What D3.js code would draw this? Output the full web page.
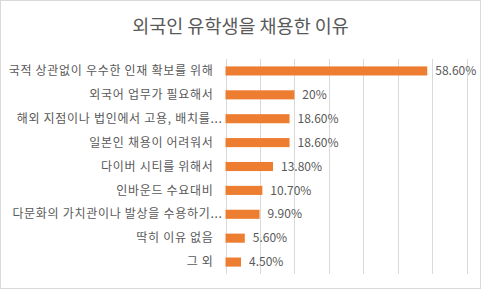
<!DOCTYPE html>
<html>
<head>
<meta charset="utf-8">
<script src="https://cdn.jsdelivr.net/npm/d3@7"></script>
<style>
  body { margin: 0; background: #fff; }
  text { font-family: "Noto Sans CJK KR", "Malgun Gothic", sans-serif; fill: #595959; }
</style>
</head>
<body>
<svg id="chart" width="481" height="289"></svg>
<script>
const categories = [
    "국적 상관없이 우수한 인재 확보를 위해",
    "외국어 업무가 필요해서",
    "해외 지점이나 법인에서 고용, 배치를...",
    "일본인 채용이 어려워서",
    "다이버 시티를 위해서",
    "인바운드 수요대비",
    "다문화의 가치관이나 발상을 수용하기...",
    "딱히 이유 없음",
    "그 외"
];
const values = [58.6, 20, 18.6, 18.6, 13.8, 10.7, 9.9, 5.6, 4.5];
const valueLabels = ["58.60%", "20%", "18.60%", "18.60%", "13.80%", "10.70%", "9.90%", "5.60%", "4.50%"];
const title = "외국인 유학생을 채용한 이유";

const width = 481, height = 289;
const margin = {top: 59, right: 15, bottom: 15, left: 225.5};

const svg = d3.select("#chart");

// chart border
svg.append("rect")
    .attr("x", 0.5).attr("y", 0.5)
    .attr("width", width - 1).attr("height", height - 1)
    .attr("fill", "#fff")
    .attr("stroke", "#d9d9d9");

svg.append("text")
    .attr("x", width / 2)
    .attr("y", 33)
    .attr("text-anchor", "middle")
    .attr("font-size", "18.5px")
    .text(title);

const x = d3.scaleLinear().domain([0, 70]).range([margin.left, margin.left + 241]);
const y = d3.scaleBand().domain(categories).range([margin.top, height - margin.bottom]).paddingInner(0.62).paddingOuter(0.31);

// gridlines
svg.append("g")
    .selectAll("line")
    .data(x.ticks(7))
    .enter().append("line")
    .attr("x1", d => Math.round(x(d)) + 0.5).attr("x2", d => Math.round(x(d)) + 0.5)
    .attr("y1", margin.top).attr("y2", height - margin.bottom)
    .attr("stroke", "#d9d9d9")
    .attr("stroke-width", 1)
    .attr("shape-rendering", "crispEdges");

// bars
svg.append("g")
    .selectAll("rect")
    .data(values)
    .enter().append("rect")
    .attr("x", x(0))
    .attr("y", (d, i) => y(categories[i]))
    .attr("width", d => x(d) - x(0))
    .attr("height", y.bandwidth())
    .attr("fill", "#ed7d31");

// value labels
svg.append("g")
    .selectAll("text")
    .data(values)
    .enter().append("text")
    .attr("x", d => x(d) + 8)
    .attr("y", (d, i) => y(categories[i]) + y.bandwidth() / 2)
    .attr("dy", "0.35em")
    .attr("font-size", "12px")
    .text((d, i) => valueLabels[i]);

// category labels
svg.append("g")
    .selectAll("text")
    .data(categories)
    .enter().append("text")
    .attr("x", d => d.endsWith("...") ? margin.left - 3 : margin.left - 12)
    .attr("y", d => y(d) + y.bandwidth() / 2)
    .attr("dy", "0.35em")
    .attr("text-anchor", "end")
    .attr("font-size", "12px")
    .attr("letter-spacing", "0.7px")
    .text(d => d);
</script>
</body>
</html>
